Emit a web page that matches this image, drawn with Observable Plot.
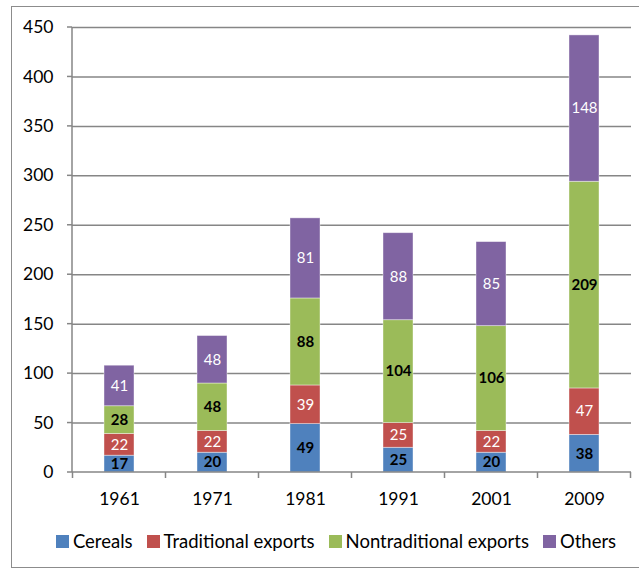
<!DOCTYPE html>
<html>
<head>
<meta charset="utf-8">
<script src="https://cdn.jsdelivr.net/npm/d3@7"></script>
<script src="https://cdn.jsdelivr.net/npm/@observablehq/plot@0.6"></script>
<style>
  html, body { margin: 0; padding: 0; background: #fff; }
  body { width: 639px; height: 571px; overflow: hidden; position: relative; font-family: Lato, "Open Sans", sans-serif; }
  #border { position: absolute; left: 11px; top: 6px; width: 700px; height: 562px; border: 1.5px solid #8c8c8c; box-sizing: border-box; pointer-events: none; }
  #chart { position: absolute; left: 0; top: 0; }
  #legend { position: absolute; left: 11px; width: 650px; top: 530px; display: flex; justify-content: center; gap: 14px; font-size: 18.5px; color: #000; }
  .item { display: flex; align-items: center; }
  .sw { width: 13px; height: 13px; margin-right: 4px; }
</style>
</head>
<body>
<div id="border"></div>
<div id="chart"></div>
<div id="legend"></div>
<script>
const years = ["1961", "1971", "1981", "1991", "2001", "2009"];
const categories = ["Cereals", "Traditional exports", "Nontraditional exports", "Others"];
const cereals        = [17, 20, 49, 25, 20, 38];
const traditional    = [22, 22, 39, 25, 22, 47];
const nontraditional = [28, 48, 88, 104, 106, 209];
const others         = [41, 48, 81, 88, 85, 148];
const yTicks = [0, 50, 100, 150, 200, 250, 300, 350, 400, 450];
const colors = ["#4f81bd", "#c0504d", "#9bbb59", "#8064a2"];
const darkLabel = ["Cereals", "Nontraditional exports"];

const series = [cereals, traditional, nontraditional, others];
const data = [];
years.forEach((y, i) => categories.forEach((c, j) => data.push({year: y, cat: c, value: series[j][i]})));

const axisColor = "#868686";

function axes(index, scales, values, dims) {
  const x = scales.x, y = scales.y;
  const step = x.step(), bw = x.bandwidth();
  const g = d3.create("svg:g").attr("stroke", axisColor).attr("stroke-width", 1.5);
  const x0 = dims.marginLeft, x1 = dims.width - dims.marginRight;
  g.append("line").attr("x1", x0).attr("x2", x0).attr("y1", y(0)).attr("y2", y(yTicks[yTicks.length - 1]));
  for (const t of yTicks) g.append("line").attr("x1", x0 - 5).attr("x2", x0).attr("y1", y(t)).attr("y2", y(t));
  g.append("line").attr("x1", x0).attr("x2", x1).attr("y1", y(0)).attr("y2", y(0));
  const bounds = years.map(d => x(d) - (step - bw) / 2);
  bounds.push(x(years[years.length - 1]) + bw + (step - bw) / 2);
  for (const b of bounds) g.append("line").attr("x1", b).attr("x2", b).attr("y1", y(0)).attr("y2", y(0) + 6);
  return g.node();
}

const plot = Plot.plot({
  width: 639,
  height: 512,
  marginLeft: 72,
  marginRight: 8,
  marginTop: 27,
  marginBottom: 40,
  style: {fontFamily: "Lato, 'Open Sans', sans-serif", fontSize: "17.5px", color: "#000", background: "transparent"},
  x: {domain: years, paddingInner: 0.68, paddingOuter: 0.34, label: null, tickSize: 0, tickPadding: 20},
  y: {domain: [0, 450], ticks: yTicks, label: null, tickSize: 0, tickPadding: 19},
  color: {domain: categories, range: colors},
  marks: [
    Plot.ruleY(yTicks.filter(t => t > 0), {stroke: axisColor, strokeWidth: 1.5}),
    Plot.barY(data, Plot.stackY({x: "year", y: "value", z: "cat", fill: "cat", order: categories, stroke: "#fff", strokeOpacity: 0.5, strokeWidth: 0.8})),
    axes,
    Plot.text(data, Plot.stackY({x: "year", y: "value", z: "cat", order: categories,
      text: d => darkLabel.includes(d.cat) ? String(d.value) : null,
      fill: "#000", fontWeight: "bold", fontSize: 15})),
    Plot.text(data, Plot.stackY({x: "year", y: "value", z: "cat", order: categories,
      text: d => darkLabel.includes(d.cat) ? null : String(d.value),
      fill: "#fff", fontSize: 15}))
  ]
});
document.getElementById("chart").appendChild(plot);

const legend = document.getElementById("legend");
categories.forEach((c, i) => {
  const it = document.createElement("div");
  it.className = "item";
  it.innerHTML = `<span class="sw" style="background:${colors[i]}"></span><span>${c}</span>`;
  legend.appendChild(it);
});
</script>
</body>
</html>
